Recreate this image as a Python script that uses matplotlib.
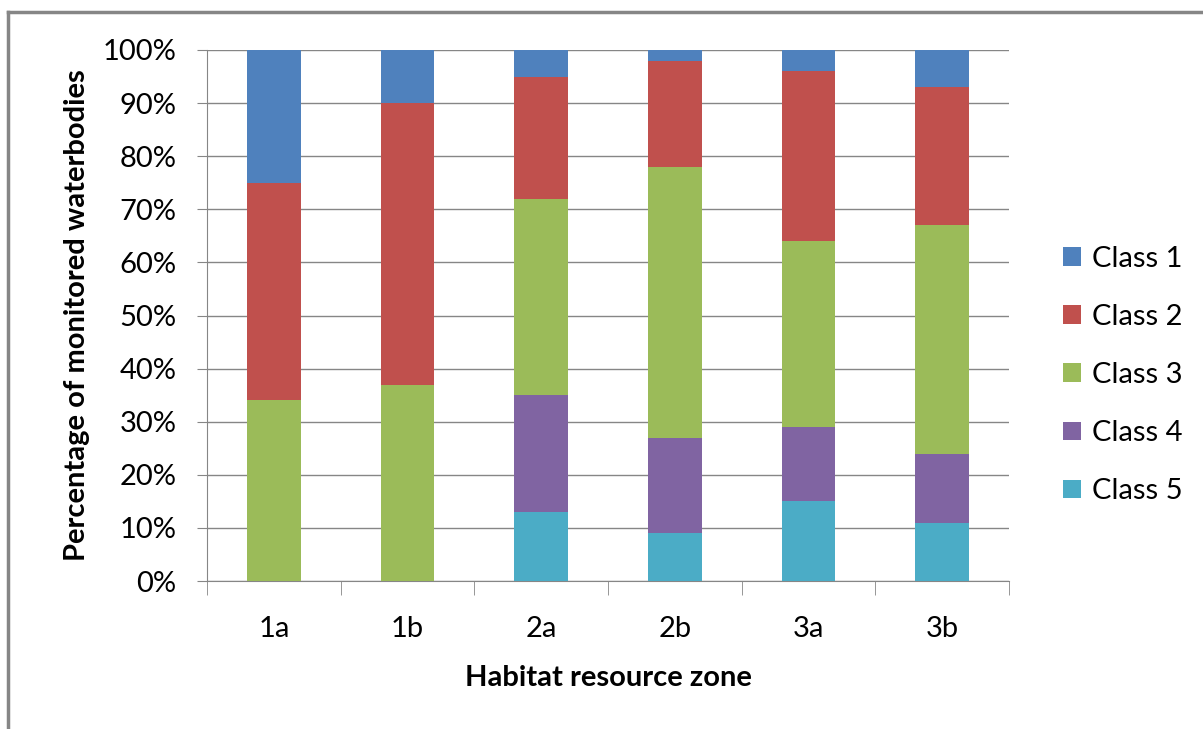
import matplotlib.pyplot as plt
import numpy as np
from matplotlib.lines import Line2D
from matplotlib.patches import Patch
from matplotlib.ticker import PercentFormatter

zones = ["1a", "1b", "2a", "2b", "3a", "3b"]
classes = ["Class 1", "Class 2", "Class 3", "Class 4", "Class 5"]
colors = ["#4F81BD", "#C0504D", "#9BBB59", "#8064A2", "#4BACC6"]

# percent of waterbodies per class, stacked bottom-up from Class 5
class5 = [0, 0, 13, 9, 15, 11]
class4 = [0, 0, 22, 18, 14, 13]
class3 = [34, 37, 37, 51, 35, 43]
class2 = [41, 53, 23, 20, 32, 26]
class1 = [25, 10, 5, 2, 4, 7]

plt.rcParams['font.family'] = ['Lato', 'DejaVu Sans']

fig = plt.figure(figsize=(12.03, 7.29), dpi=100)
ax = fig.add_axes([207 / 1203, 1 - 581 / 729, 802 / 1203, 531 / 729])

x = np.arange(len(zones))
stack = [(class5, colors[4]), (class4, colors[3]), (class3, colors[2]),
         (class2, colors[1]), (class1, colors[0])]
bottom = np.zeros(len(zones))
for vals, c in stack:
    ax.bar(x, vals, width=0.4, bottom=bottom, color=c, zorder=3)
    bottom += np.array(vals)

ax.set_xlim(-0.5, len(zones) - 0.5)
ax.set_ylim(0, 100)
ax.set_yticks(range(0, 101, 10))
ax.yaxis.set_major_formatter(PercentFormatter(decimals=0))
ax.set_xticks(x)
ax.set_xticklabels(zones)
ax.set_xticks(np.arange(-0.5, len(zones), 1), minor=True)
ax.tick_params(axis='x', which='major', length=0, pad=25, labelsize=21)
ax.tick_params(axis='x', which='minor', length=10, color='#868686', direction='out')
ax.tick_params(axis='y', length=7, color='#868686', labelsize=21, pad=15)

ax.grid(axis='y', color='#868686', linewidth=1, zorder=0)
for side in ['top', 'right']:
    ax.spines[side].set_visible(False)
for side in ['left', 'bottom']:
    ax.spines[side].set_color('#868686')

ax.set_xlabel("Habitat resource zone", fontsize=21, fontweight='bold', labelpad=17)
ax.set_ylabel("Percentage of monitored waterbodies", fontsize=21, fontweight='bold', labelpad=9)

handles = [Patch(facecolor=c) for c in colors]
fig.legend(handles, classes, loc='center left', bbox_to_anchor=(1063 / 1203, 1 - 375 / 729),
           frameon=False, fontsize=21, handlelength=0.6, handleheight=0.6,
           handletextpad=0.4, labelspacing=1.1, borderpad=0, borderaxespad=0)

# outer chart frame
fig.add_artist(Line2D([8 / 1203, 1], [1 - 12 / 729, 1 - 12 / 729], color='#868686', linewidth=2.5))
fig.add_artist(Line2D([8 / 1203, 8 / 1203], [0, 1 - 12 / 729], color='#868686', linewidth=2.5))

fig.savefig("out.png", dpi=100)
